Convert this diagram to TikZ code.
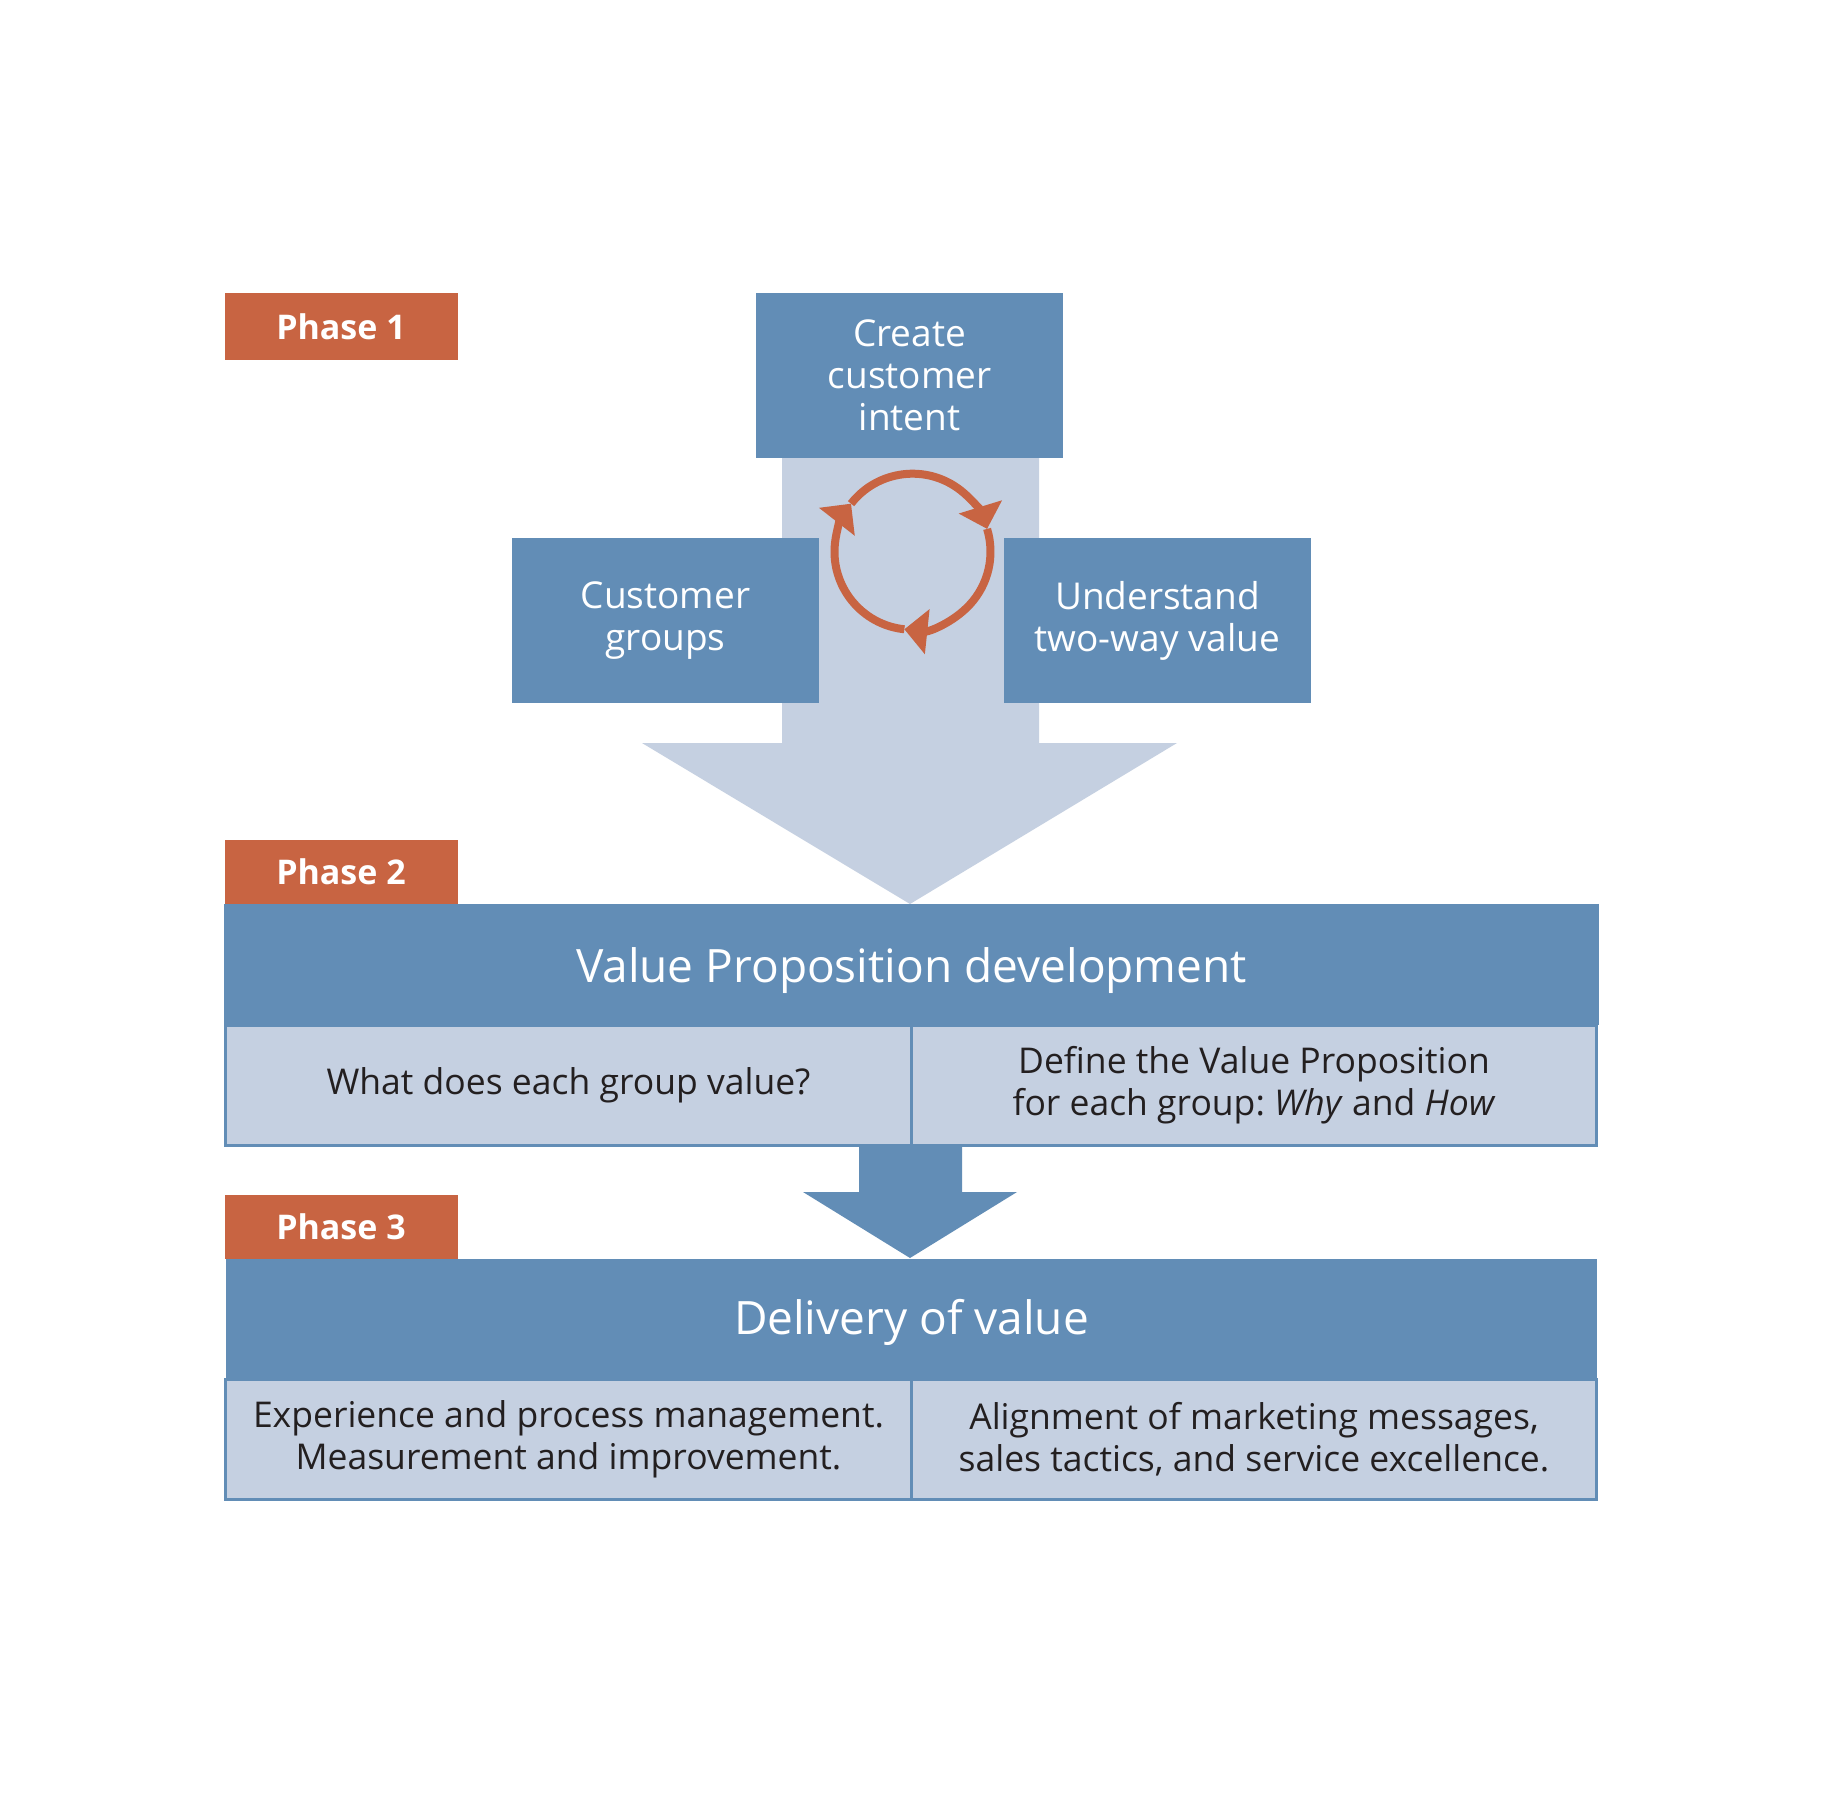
\documentclass[tikz,border=0pt]{standalone}
\usepackage{fontspec}
\setmainfont{Open Sans}
\usetikzlibrary{arrows.meta}
\definecolor{dblue}{RGB}{98,141,182}
\definecolor{lblue}{RGB}{197,208,225}
\definecolor{rust}{RGB}{200,100,66}
\definecolor{ink}{RGB}{35,31,32}
\tikzset{
  phasebox/.style={fill=rust, text=white, inner sep=0pt, minimum width=233pt,
    font=\fontsize{34}{42}\selectfont\bfseries},
  bluebox/.style={fill=dblue, text=white, inner sep=0pt, align=center,
    minimum width=307pt, minimum height=165pt, font=\fontsize{37}{42}\selectfont},
  headbox/.style={fill=dblue, text=white, inner sep=0pt, minimum width=1371pt,
    minimum height=121pt, font=\fontsize{46}{52}\selectfont},
  cellbox/.style={fill=lblue, draw=dblue, line width=3pt, text=ink, inner sep=0pt,
    align=center, minimum width=685.5pt, minimum height=120pt,
    font=\fontsize{35.5}{42}\selectfont},
  cyc/.style={draw=rust, line width=8pt, -{Triangle[length=23pt,width=44pt]}},
}
\begin{document}
\begin{tikzpicture}[x=1pt,y=-1pt]
\useasboundingbox[fill=white] (0,0) rectangle (1837,1798);

% big light arrow
\coordinate (bigtip) at (910,904);
\fill[lblue] (782,458) -- (1039,458) -- (1039,743) -- (1177,743) -- (bigtip)
  -- (642,743) -- (782,743) -- cycle;

% phase 1 boxes
\node[bluebox] (create) at (909.5,375.5) {Create\\customer\\intent};
\node[bluebox] (groups) at (665.5,620.5) {Customer\\groups};
\node[bluebox] (twoway) at (1157.5,620.5) {Understand\\two-way value};

% cycle
\coordinate (cc) at (912.5,551.7);
\draw[cyc] (cc) ++(96:78) arc[start angle=96, end angle=218, radius=78];
\draw[cyc] (cc) ++(218:78) arc[start angle=218, end angle=343, radius=78];
\draw[cyc] (cc) ++(343:78) arc[start angle=343, end angle=456, radius=78];

% phase labels
\node[phasebox, minimum height=67pt] (p1) at (341,326.5) {Phase 1};
\node[phasebox, minimum height=65pt] (p2) at (341,872) {Phase 2};
\node[phasebox, minimum height=64pt] (p3) at (341,1227) {Phase 3};

% phase 2 table
\node[headbox, text height=44pt, text depth=8pt] (vp) at (911.5,964.5) {Value Proposition development};
\node[cellbox] (vpl) at (568.5,1085) {What does each group value?};
\node[cellbox] (vpr) at (1254,1085) {Define the Value Proposition\\for each group:~\textit{Why} and \textit{How}};
\draw[dblue, line width=3pt] (vp.north west) -- (vp.south west);
\draw[dblue, line width=3pt] (vp.north east) -- (vp.south east);

% small arrow
\fill[dblue] (859,1146) -- (962,1146) -- (962,1192) -- (1017,1192) -- (910,1258)
  -- (803,1192) -- (859,1192) -- cycle;

% phase 3 table
\node[headbox, minimum height=120pt, text height=40pt, text depth=9pt] (dv) at (911.5,1319) {Delivery of value};
\node[cellbox] (dvl) at (568.5,1439) {Experience and process management.\\Measurement and improvement.};
\node[cellbox] (dvr) at (1254,1439) {Alignment of marketing messages,\\sales tactics, and service excellence.};
\end{tikzpicture}
\end{document}
